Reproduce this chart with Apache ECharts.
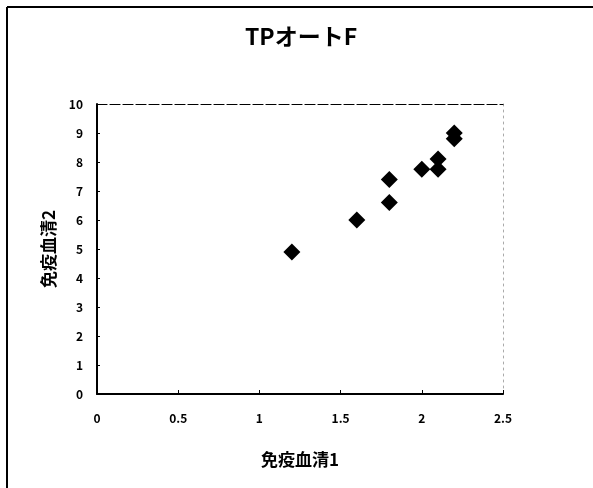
<!DOCTYPE html>
<html><head><meta charset="utf-8">
<script src="https://cdn.jsdelivr.net/npm/echarts@6/dist/echarts.min.js"></script>
<style>html,body{margin:0;padding:0;background:#fff}#c{width:593px;height:488px}</style>
</head><body><div id="c"></div>
<script>
const titleText = 'TPオートF';
const xName = '免疫血清1';
const yName = '免疫血清2';
const xValues = [1.2, 1.6, 1.8, 1.8, 2.0, 2.1, 2.1, 2.2, 2.2];
const yValues = [4.9, 6.0, 6.6, 7.4, 7.75, 7.75, 8.1, 9.0, 8.8];
const xTicks = [0, 0.5, 1, 1.5, 2, 2.5];
const yTicks = [0,1,2,3,4,5,6,7,8,9,10];

const font = '"Noto Sans CJK JP", "Noto Sans", sans-serif';
const chart = echarts.init(document.getElementById('c'), null, {renderer:'canvas'});
chart.setOption({
  backgroundColor:'#fff',
  animation:false,
  title:{text:titleText, left:296, textAlign:'center', top:20,
    textStyle:{fontFamily:font, fontSize:23, fontWeight:'bold', color:'#000'}},
  graphic:[
    {type:'line', shape:{x1:7,y1:7,x2:7,y2:488}, style:{stroke:'#000', lineWidth:2}},
    {type:'line', shape:{x1:7,y1:7,x2:593,y2:7}, style:{stroke:'#000', lineWidth:2}}
  ],
  grid:{left:97, right:90, top:104, bottom:94},
  xAxis:[{
    type:'value', min:0, max:2.5, interval:0.5,
    name:xName, nameLocation:'middle', nameGap:57, nameMoveOverlap:false,
    nameTextStyle:{fontFamily:font, fontSize:17, fontWeight:'bold', color:'#000'},
    axisLine:{onZero:false, lineStyle:{color:'#000', width:2}},
    axisTick:{inside:true, length:4, lineStyle:{color:'#000'}},
    axisLabel:{fontFamily:font, fontSize:12, fontWeight:'bold', color:'#000', margin:18,
      formatter:v=>xTicks.includes(v)?String(v):''},
    splitLine:{show:false}
  },{
    type:'value', min:0, max:2.5, position:'top',
    axisLine:{show:true, onZero:false, lineStyle:{color:'#000', width:1.2, type:[10,3]}},
    axisTick:{show:false}, axisLabel:{show:false}, splitLine:{show:false}
  }],
  yAxis:[{
    type:'value', min:0, max:10, interval:1,
    name:yName, nameLocation:'middle', nameGap:40, nameMoveOverlap:false,
    nameTextStyle:{fontFamily:font, fontSize:17, fontWeight:'bold', color:'#000'},
    axisLine:{onZero:false, lineStyle:{color:'#000', width:2}},
    axisTick:{inside:true, length:3, lineStyle:{color:'#000'}},
    axisLabel:{fontFamily:font, fontSize:12, fontWeight:'bold', color:'#000', margin:14,
      formatter:v=>yTicks.includes(v)?String(v):''},
    splitLine:{show:false}
  },{
    type:'value', min:0, max:10, position:'right',
    axisLine:{show:true, onZero:false, lineStyle:{color:'#aaa', width:1, type:[2,4]}},
    axisTick:{show:false}, axisLabel:{show:false}, splitLine:{show:false}
  }],
  series:[{
    type:'scatter', symbol:'diamond', symbolSize:17,
    itemStyle:{color:'#000', opacity:1},
    data:xValues.map((x,i)=>[x, yValues[i]])
  }]
});
</script></body></html>
